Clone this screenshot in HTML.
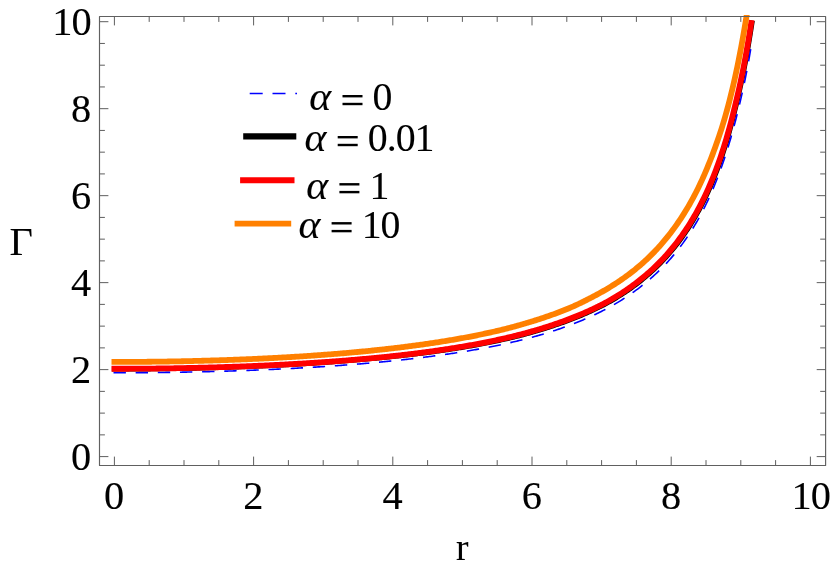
<!DOCTYPE html>
<html><head><meta charset="utf-8"><title>plot</title>
<style>
html,body{margin:0;padding:0;background:#fff;}
body{width:830px;height:569px;overflow:hidden;}
svg{display:block;will-change:transform;}
text{font-family:"Liberation Serif",serif;font-size:40.4px;fill:#000;stroke:#000;stroke-width:0.1px;}
#leg text{font-size:39.8px;}
.it{font-style:italic;}
</style></head><body>
<svg width="830" height="569" viewBox="0 0 830 569">
<defs><clipPath id="cp"><rect x="99.5" y="15" width="726.1" height="450.5"/></clipPath></defs>
<g clip-path="url(#cp)" fill="none" stroke-linecap="square" stroke-linejoin="round">
<path d="M114.40,369.06 L115.68,369.06 L116.95,369.05 L118.23,369.05 L119.51,369.05 L120.78,369.05 L122.06,369.05 L123.33,369.04 L124.61,369.04 L125.89,369.04 L127.16,369.03 L128.44,369.03 L129.72,369.02 L130.99,369.02 L132.27,369.01 L133.55,369.01 L134.82,369.00 L136.10,368.99 L137.37,368.98 L138.65,368.97 L139.93,368.97 L141.20,368.96 L142.48,368.95 L143.76,368.94 L145.03,368.93 L146.31,368.92 L147.58,368.90 L148.86,368.89 L150.14,368.88 L151.41,368.87 L152.69,368.85 L153.97,368.84 L155.24,368.83 L156.52,368.81 L157.80,368.80 L159.07,368.78 L160.35,368.76 L161.62,368.75 L162.90,368.73 L164.18,368.71 L165.45,368.70 L166.73,368.68 L168.01,368.66 L169.28,368.64 L170.56,368.62 L171.84,368.60 L173.11,368.58 L174.39,368.56 L175.66,368.54 L176.94,368.51 L178.22,368.49 L179.49,368.47 L180.77,368.44 L182.05,368.42 L183.32,368.40 L184.60,368.37 L185.88,368.35 L187.15,368.32 L188.43,368.29 L189.70,368.27 L190.98,368.24 L192.26,368.21 L193.53,368.18 L194.81,368.15 L196.09,368.13 L197.36,368.10 L198.64,368.07 L199.91,368.04 L201.19,368.00 L202.47,367.97 L203.74,367.94 L205.02,367.91 L206.30,367.87 L207.57,367.84 L208.85,367.81 L210.13,367.77 L211.40,367.74 L212.68,367.70 L213.95,367.67 L215.23,367.63 L216.51,367.59 L217.78,367.55 L219.06,367.52 L220.34,367.48 L221.61,367.44 L222.89,367.40 L224.17,367.36 L225.44,367.32 L226.72,367.28 L227.99,367.23 L229.27,367.19 L230.55,367.15 L231.82,367.11 L233.10,367.06 L234.38,367.02 L235.65,366.97 L236.93,366.93 L238.21,366.88 L239.48,366.83 L240.76,366.79 L242.03,366.74 L243.31,366.69 L244.59,366.64 L245.86,366.59 L247.14,366.54 L248.42,366.49 L249.69,366.44 L250.97,366.39 L252.25,366.34 L253.52,366.29 L254.80,366.23 L256.07,366.18 L257.35,366.12 L258.63,366.07 L259.90,366.01 L261.18,365.96 L262.46,365.90 L263.73,365.84 L265.01,365.79 L266.29,365.73 L267.56,365.67 L268.84,365.61 L270.11,365.55 L271.39,365.49 L272.67,365.43 L273.94,365.37 L275.22,365.30 L276.50,365.24 L277.77,365.18 L279.05,365.11 L280.33,365.05 L281.60,364.98 L282.88,364.91 L284.15,364.85 L285.43,364.78 L286.71,364.71 L287.98,364.64 L289.26,364.57 L290.54,364.50 L291.81,364.43 L293.09,364.36 L294.37,364.29 L295.64,364.22 L296.92,364.14 L298.19,364.07 L299.47,363.99 L300.75,363.92 L302.02,363.84 L303.30,363.77 L304.58,363.69 L305.85,363.61 L307.13,363.53 L308.41,363.45 L309.68,363.37 L310.96,363.29 L312.24,363.21 L313.51,363.13 L314.79,363.04 L316.06,362.96 L317.34,362.87 L318.62,362.79 L319.89,362.70 L321.17,362.62 L322.45,362.53 L323.72,362.44 L325.00,362.35 L326.28,362.26 L327.55,362.17 L328.83,362.08 L330.10,361.99 L331.38,361.90 L332.66,361.80 L333.93,361.71 L335.21,361.61 L336.49,361.52 L337.76,361.42 L339.04,361.32 L340.32,361.22 L341.59,361.12 L342.87,361.02 L344.15,360.92 L345.42,360.82 L346.70,360.72 L347.97,360.62 L349.25,360.51 L350.53,360.41 L351.80,360.30 L353.08,360.19 L354.36,360.09 L355.63,359.98 L356.91,359.87 L358.19,359.76 L359.46,359.65 L360.74,359.53 L362.02,359.42 L363.29,359.31 L364.57,359.19 L365.85,359.08 L367.12,358.96 L368.40,358.85 L369.68,358.73 L370.95,358.61 L372.23,358.50 L373.51,358.38 L374.78,358.26 L376.06,358.14 L377.34,358.01 L378.61,357.89 L379.89,357.77 L381.17,357.65 L382.44,357.52 L383.72,357.40 L385.00,357.27 L386.27,357.14 L387.55,357.01 L388.83,356.89 L390.11,356.76 L391.38,356.62 L392.66,356.49 L393.94,356.36 L395.21,356.23 L396.49,356.09 L397.77,355.95 L399.05,355.82 L400.32,355.68 L401.60,355.54 L402.88,355.40 L404.15,355.26 L405.43,355.12 L406.71,354.97 L407.99,354.83 L409.26,354.68 L410.54,354.53 L411.82,354.39 L413.10,354.24 L414.37,354.09 L415.65,353.93 L416.93,353.78 L418.21,353.63 L419.48,353.47 L420.76,353.31 L422.04,353.15 L423.32,352.99 L424.60,352.83 L425.87,352.67 L427.15,352.50 L428.43,352.34 L429.71,352.17 L430.98,352.00 L432.26,351.83 L433.54,351.66 L434.82,351.49 L436.09,351.31 L437.37,351.13 L438.65,350.95 L439.93,350.77 L441.21,350.59 L442.48,350.41 L443.76,350.22 L445.04,350.04 L446.32,349.85 L447.59,349.66 L448.87,349.47 L450.15,349.27 L451.43,349.08 L452.71,348.88 L453.98,348.68 L455.26,348.48 L456.54,348.28 L457.82,348.07 L459.09,347.86 L460.37,347.66 L461.65,347.45 L462.93,347.24 L464.21,347.02 L465.48,346.81 L466.76,346.59 L468.04,346.37 L469.32,346.15 L470.60,345.93 L471.87,345.70 L473.15,345.47 L474.43,345.24 L475.71,345.01 L476.99,344.78 L478.27,344.54 L479.54,344.31 L480.82,344.07 L482.10,343.83 L483.38,343.58 L484.66,343.34 L485.93,343.09 L487.21,342.84 L488.49,342.58 L489.77,342.33 L491.05,342.07 L492.33,341.81 L493.61,341.55 L494.88,341.28 L496.16,341.02 L497.44,340.75 L498.72,340.47 L500.00,340.20 L501.28,339.92 L502.55,339.64 L503.83,339.35 L505.11,339.07 L506.39,338.78 L507.67,338.48 L508.95,338.19 L510.22,337.89 L511.50,337.58 L512.78,337.28 L514.06,336.97 L515.34,336.66 L516.61,336.34 L517.89,336.02 L519.17,335.70 L520.45,335.37 L521.72,335.04 L523.00,334.71 L524.28,334.37 L525.56,334.03 L526.83,333.69 L528.11,333.34 L529.39,332.99 L530.66,332.64 L531.94,332.28 L533.22,331.92 L534.50,331.56 L535.77,331.19 L537.05,330.81 L538.33,330.44 L539.60,330.06 L540.88,329.67 L542.16,329.29 L543.43,328.89 L544.71,328.50 L545.99,328.10 L547.27,327.70 L548.54,327.29 L549.82,326.88 L551.10,326.46 L552.37,326.04 L553.65,325.61 L554.93,325.18 L556.20,324.75 L557.48,324.31 L558.76,323.87 L560.04,323.42 L561.31,322.97 L562.59,322.52 L563.87,322.06 L565.15,321.59 L566.42,321.12 L567.70,320.64 L568.98,320.16 L570.26,319.68 L571.54,319.19 L572.82,318.69 L574.10,318.19 L575.37,317.68 L576.65,317.17 L577.93,316.66 L579.21,316.13 L580.49,315.60 L581.77,315.07 L583.05,314.53 L584.33,313.98 L585.61,313.43 L586.89,312.86 L588.17,312.30 L589.45,311.72 L590.73,311.14 L592.01,310.55 L593.29,309.96 L594.57,309.35 L595.85,308.74 L597.13,308.12 L598.41,307.50 L599.69,306.86 L600.98,306.22 L602.26,305.57 L603.54,304.91 L604.82,304.24 L606.10,303.56 L607.37,302.87 L608.65,302.17 L609.93,301.46 L611.20,300.74 L612.48,300.01 L613.76,299.27 L615.03,298.51 L616.30,297.75 L617.58,296.97 L618.85,296.19 L620.12,295.39 L621.40,294.58 L622.67,293.76 L623.94,292.93 L625.21,292.09 L626.48,291.23 L627.75,290.36 L629.02,289.48 L630.29,288.59 L631.56,287.68 L632.83,286.76 L634.09,285.83 L635.36,284.88 L636.63,283.92 L637.90,282.95 L639.17,281.96 L640.44,280.96 L641.71,279.94 L642.98,278.91 L644.25,277.86 L645.52,276.80 L646.79,275.72 L648.06,274.63 L649.33,273.51 L650.61,272.39 L651.88,271.24 L653.15,270.07 L654.42,268.89 L655.70,267.68 L656.97,266.45 L658.24,265.21 L659.51,263.94 L660.78,262.65 L662.06,261.33 L663.33,260.00 L664.60,258.64 L665.87,257.25 L667.14,255.84 L668.41,254.41 L669.69,252.95 L670.96,251.46 L672.23,249.95 L673.50,248.40 L674.77,246.83 L676.05,245.22 L677.32,243.59 L678.59,241.92 L679.86,240.22 L681.14,238.49 L682.41,236.72 L683.69,234.92 L684.96,233.08 L686.24,231.20 L687.51,229.28 L688.79,227.32 L690.07,225.32 L691.34,223.27 L692.62,221.18 L693.90,219.04 L695.18,216.86 L696.46,214.63 L697.75,212.34 L699.03,210.00 L700.31,207.60 L701.59,205.15 L702.88,202.64 L704.16,200.07 L705.44,197.43 L706.73,194.72 L708.01,191.95 L709.29,189.10 L710.57,186.18 L711.86,183.18 L713.14,180.10 L714.41,176.93 L715.69,173.68 L716.97,170.33 L718.24,166.89 L719.51,163.35 L720.77,159.71 L722.04,155.95 L723.30,152.08 L724.56,148.10 L725.82,143.99 L727.08,139.75 L728.33,135.37 L729.59,130.86 L730.85,126.19 L732.11,121.37 L733.38,116.38 L734.66,111.23 L735.96,105.89 L737.27,100.37 L738.60,94.64 L739.93,88.70 L741.28,82.53 L742.63,76.12 L743.98,69.46 L745.32,62.52 L746.65,55.29 L747.98,47.75 L749.31,39.88 L750.64,31.67 L751.97,23.09" stroke="#000" stroke-width="5.0"/>
<path d="M113.50,372.74 L114.77,372.74 L116.05,372.74 L117.33,372.74 L118.61,372.74 L119.89,372.74 L121.17,372.74 L122.45,372.73 L123.73,372.73 L125.01,372.73 L126.29,372.73 L127.57,372.72 L128.85,372.72 L130.13,372.71 L131.41,372.71 L132.69,372.70 L133.97,372.70 L135.25,372.69 L136.53,372.69 L137.80,372.68 L139.08,372.67 L140.36,372.66 L141.64,372.66 L142.92,372.65 L144.20,372.64 L145.48,372.63 L146.76,372.62 L148.04,372.61 L149.32,372.60 L150.60,372.59 L151.88,372.57 L153.16,372.56 L154.44,372.55 L155.72,372.54 L157.00,372.52 L158.28,372.51 L159.56,372.50 L160.84,372.48 L162.11,372.47 L163.39,372.45 L164.67,372.43 L165.95,372.42 L167.23,372.40 L168.51,372.38 L169.79,372.36 L171.07,372.35 L172.35,372.33 L173.63,372.31 L174.91,372.29 L176.19,372.27 L177.47,372.25 L178.75,372.23 L180.03,372.21 L181.31,372.18 L182.59,372.16 L183.87,372.14 L185.15,372.12 L186.42,372.09 L187.70,372.07 L188.98,372.04 L190.26,372.02 L191.54,371.99 L192.82,371.97 L194.10,371.94 L195.38,371.91 L196.66,371.89 L197.94,371.86 L199.22,371.83 L200.50,371.80 L201.78,371.77 L203.06,371.74 L204.34,371.71 L205.62,371.68 L206.90,371.65 L208.18,371.62 L209.46,371.59 L210.73,371.56 L212.01,371.52 L213.29,371.49 L214.57,371.45 L215.85,371.42 L217.13,371.39 L218.41,371.35 L219.69,371.31 L220.97,371.28 L222.25,371.24 L223.53,371.20 L224.81,371.17 L226.09,371.13 L227.37,371.09 L228.65,371.05 L229.93,371.01 L231.21,370.97 L232.49,370.93 L233.77,370.89 L235.05,370.84 L236.32,370.80 L237.60,370.76 L238.88,370.72 L240.16,370.67 L241.44,370.63 L242.72,370.58 L244.00,370.54 L245.28,370.49 L246.56,370.44 L247.84,370.40 L249.12,370.35 L250.40,370.30 L251.68,370.25 L252.96,370.20 L254.24,370.15 L255.52,370.10 L256.80,370.05 L258.08,370.00 L259.36,369.95 L260.64,369.90 L261.91,369.84 L263.19,369.79 L264.47,369.74 L265.75,369.68 L267.03,369.63 L268.31,369.57 L269.59,369.51 L270.87,369.46 L272.15,369.40 L273.43,369.34 L274.71,369.28 L275.99,369.22 L277.27,369.16 L278.55,369.10 L279.83,369.04 L281.11,368.98 L282.39,368.92 L283.67,368.85 L284.95,368.79 L286.23,368.73 L287.51,368.66 L288.78,368.60 L290.06,368.53 L291.34,368.46 L292.62,368.40 L293.90,368.33 L295.18,368.26 L296.46,368.19 L297.74,368.12 L299.02,368.05 L300.30,367.98 L301.58,367.91 L302.86,367.84 L304.14,367.76 L305.42,367.69 L306.70,367.62 L307.98,367.54 L309.26,367.46 L310.54,367.39 L311.82,367.31 L313.10,367.23 L314.38,367.15 L315.66,367.08 L316.94,367.00 L318.21,366.92 L319.49,366.83 L320.77,366.75 L322.05,366.67 L323.33,366.59 L324.61,366.50 L325.89,366.42 L327.17,366.33 L328.45,366.25 L329.73,366.16 L331.01,366.07 L332.29,365.98 L333.57,365.89 L334.85,365.80 L336.13,365.71 L337.41,365.62 L338.69,365.53 L339.97,365.44 L341.25,365.34 L342.53,365.25 L343.81,365.15 L345.09,365.06 L346.37,364.96 L347.65,364.86 L348.93,364.76 L350.20,364.66 L351.48,364.56 L352.76,364.46 L354.04,364.36 L355.32,364.26 L356.60,364.15 L357.88,364.05 L359.16,363.94 L360.44,363.84 L361.72,363.73 L363.00,363.62 L364.28,363.51 L365.56,363.40 L366.84,363.29 L368.12,363.18 L369.40,363.07 L370.68,362.95 L371.96,362.84 L373.24,362.72 L374.52,362.61 L375.80,362.49 L377.08,362.37 L378.36,362.25 L379.64,362.13 L380.92,362.01 L382.20,361.89 L383.48,361.76 L384.76,361.64 L386.03,361.51 L387.31,361.39 L388.59,361.26 L389.87,361.13 L391.15,361.00 L392.43,360.87 L393.71,360.74 L394.99,360.61 L396.27,360.47 L397.55,360.34 L398.83,360.20 L400.11,360.07 L401.39,359.93 L402.67,359.79 L403.95,359.65 L405.23,359.51 L406.51,359.36 L407.79,359.22 L409.07,359.07 L410.35,358.93 L411.63,358.78 L412.91,358.63 L414.19,358.48 L415.47,358.33 L416.75,358.18 L418.03,358.02 L419.31,357.87 L420.59,357.71 L421.87,357.56 L423.15,357.40 L424.43,357.24 L425.71,357.08 L426.99,356.91 L428.27,356.75 L429.55,356.58 L430.83,356.42 L432.11,356.25 L433.39,356.08 L434.67,355.91 L435.95,355.74 L437.23,355.56 L438.51,355.39 L439.79,355.21 L441.07,355.03 L442.35,354.85 L443.63,354.67 L444.91,354.49 L446.19,354.30 L447.46,354.12 L448.74,353.93 L450.02,353.74 L451.30,353.55 L452.58,353.36 L453.86,353.17 L455.14,352.97 L456.42,352.77 L457.70,352.57 L458.98,352.37 L460.26,352.17 L461.54,351.97 L462.82,351.76 L464.10,351.55 L465.38,351.34 L466.66,351.13 L467.94,350.92 L469.22,350.70 L470.50,350.48 L471.78,350.26 L473.06,350.04 L474.34,349.82 L475.63,349.60 L476.91,349.37 L478.19,349.14 L479.47,348.91 L480.75,348.67 L482.03,348.44 L483.31,348.20 L484.59,347.96 L485.87,347.72 L487.15,347.48 L488.43,347.23 L489.71,346.98 L490.99,346.73 L492.27,346.48 L493.55,346.22 L494.83,345.96 L496.11,345.70 L497.39,345.44 L498.67,345.17 L499.95,344.91 L501.23,344.64 L502.51,344.36 L503.79,344.09 L505.07,343.81 L506.35,343.53 L507.63,343.25 L508.91,342.96 L510.19,342.67 L511.47,342.38 L512.75,342.09 L514.03,341.79 L515.31,341.49 L516.59,341.18 L517.87,340.88 L519.15,340.57 L520.43,340.26 L521.71,339.94 L522.99,339.62 L524.27,339.30 L525.55,338.97 L526.83,338.64 L528.11,338.31 L529.39,337.97 L530.67,337.63 L531.95,337.29 L533.22,336.94 L534.50,336.59 L535.78,336.23 L537.06,335.87 L538.34,335.51 L539.62,335.14 L540.90,334.77 L542.18,334.40 L543.45,334.02 L544.73,333.63 L546.01,333.24 L547.29,332.85 L548.57,332.46 L549.84,332.05 L551.12,331.65 L552.40,331.24 L553.68,330.83 L554.95,330.41 L556.23,329.98 L557.51,329.55 L558.79,329.12 L560.06,328.68 L561.34,328.24 L562.62,327.79 L563.89,327.34 L565.17,326.88 L566.44,326.42 L567.72,325.95 L569.00,325.48 L570.27,325.00 L571.55,324.52 L572.82,324.03 L574.10,323.53 L575.37,323.03 L576.65,322.52 L577.92,322.01 L579.20,321.49 L580.47,320.97 L581.75,320.44 L583.02,319.90 L584.30,319.36 L585.57,318.81 L586.85,318.25 L588.12,317.69 L589.39,317.12 L590.67,316.54 L591.94,315.96 L593.21,315.37 L594.49,314.77 L595.76,314.17 L597.03,313.56 L598.31,312.94 L599.58,312.31 L600.85,311.68 L602.13,311.04 L603.40,310.39 L604.67,309.73 L605.94,309.06 L607.22,308.39 L608.49,307.70 L609.76,307.01 L611.03,306.30 L612.30,305.59 L613.57,304.87 L614.84,304.13 L616.11,303.39 L617.37,302.64 L618.64,301.87 L619.91,301.10 L621.18,300.31 L622.44,299.51 L623.71,298.70 L624.98,297.88 L626.24,297.05 L627.51,296.21 L628.77,295.36 L630.04,294.49 L631.30,293.61 L632.56,292.72 L633.83,291.81 L635.09,290.90 L636.36,289.97 L637.62,289.02 L638.89,288.07 L640.15,287.10 L641.41,286.11 L642.68,285.11 L643.94,284.10 L645.21,283.07 L646.48,282.02 L647.74,280.96 L649.01,279.89 L650.28,278.79 L651.55,277.69 L652.82,276.56 L654.09,275.42 L655.36,274.25 L656.63,273.07 L657.90,271.87 L659.17,270.64 L660.44,269.40 L661.71,268.13 L662.98,266.84 L664.25,265.53 L665.52,264.19 L666.80,262.83 L668.07,261.45 L669.34,260.03 L670.61,258.60 L671.88,257.13 L673.15,255.64 L674.42,254.12 L675.69,252.57 L676.96,250.99 L678.23,249.38 L679.50,247.74 L680.78,246.07 L682.05,244.36 L683.32,242.61 L684.59,240.83 L685.87,239.02 L687.14,237.16 L688.41,235.27 L689.69,233.33 L690.96,231.35 L692.23,229.33 L693.51,227.26 L694.78,225.15 L696.06,222.99 L697.34,220.78 L698.61,218.52 L699.89,216.20 L701.17,213.83 L702.45,211.40 L703.73,208.92 L705.01,206.37 L706.29,203.76 L707.57,201.08 L708.85,198.33 L710.13,195.51 L711.41,192.62 L712.69,189.65 L713.98,186.60 L715.26,183.47 L716.55,180.25 L717.83,176.94 L719.12,173.53 L720.41,170.03 L721.70,166.43 L723.00,162.71 L724.29,158.89 L725.59,154.95 L726.90,150.89 L728.20,146.70 L729.51,142.37 L730.82,137.91 L732.13,133.30 L733.45,128.53 L734.76,123.60 L736.08,118.49 L737.41,113.21 L738.75,107.74 L740.10,102.07 L741.47,96.19 L742.84,90.09 L744.21,83.75 L745.58,77.15 L746.93,70.29 L748.27,63.14 L749.59,55.69 L750.89,47.92 L752.20,39.81" stroke="#0000ff" stroke-width="1.6" stroke-dasharray="12.4 9.75" stroke-linecap="butt"/>
<path d="M114.40,368.76 L115.68,368.76 L116.95,368.75 L118.23,368.75 L119.50,368.75 L120.78,368.75 L122.06,368.75 L123.33,368.74 L124.61,368.74 L125.89,368.74 L127.16,368.73 L128.44,368.73 L129.71,368.72 L130.99,368.72 L132.27,368.71 L133.54,368.71 L134.82,368.70 L136.10,368.69 L137.37,368.68 L138.65,368.67 L139.92,368.67 L141.20,368.66 L142.48,368.65 L143.75,368.64 L145.03,368.63 L146.31,368.62 L147.58,368.60 L148.86,368.59 L150.13,368.58 L151.41,368.57 L152.69,368.55 L153.96,368.54 L155.24,368.53 L156.52,368.51 L157.79,368.50 L159.07,368.48 L160.34,368.46 L161.62,368.45 L162.90,368.43 L164.17,368.41 L165.45,368.40 L166.73,368.38 L168.00,368.36 L169.28,368.34 L170.55,368.32 L171.83,368.30 L173.11,368.28 L174.38,368.26 L175.66,368.24 L176.94,368.21 L178.21,368.19 L179.49,368.17 L180.76,368.14 L182.04,368.12 L183.32,368.10 L184.59,368.07 L185.87,368.05 L187.15,368.02 L188.42,367.99 L189.70,367.97 L190.97,367.94 L192.25,367.91 L193.53,367.88 L194.80,367.86 L196.08,367.83 L197.36,367.80 L198.63,367.77 L199.91,367.74 L201.18,367.70 L202.46,367.67 L203.74,367.64 L205.01,367.61 L206.29,367.57 L207.56,367.54 L208.84,367.51 L210.12,367.47 L211.39,367.44 L212.67,367.40 L213.95,367.37 L215.22,367.33 L216.50,367.29 L217.77,367.25 L219.05,367.22 L220.33,367.18 L221.60,367.14 L222.88,367.10 L224.16,367.06 L225.43,367.02 L226.71,366.98 L227.98,366.93 L229.26,366.89 L230.54,366.85 L231.81,366.81 L233.09,366.76 L234.37,366.72 L235.64,366.67 L236.92,366.63 L238.19,366.58 L239.47,366.53 L240.75,366.49 L242.02,366.44 L243.30,366.39 L244.58,366.34 L245.85,366.29 L247.13,366.24 L248.40,366.19 L249.68,366.14 L250.96,366.09 L252.23,366.04 L253.51,365.99 L254.79,365.93 L256.06,365.88 L257.34,365.82 L258.61,365.77 L259.89,365.71 L261.17,365.66 L262.44,365.60 L263.72,365.54 L265.00,365.49 L266.27,365.43 L267.55,365.37 L268.82,365.31 L270.10,365.25 L271.38,365.19 L272.65,365.13 L273.93,365.07 L275.21,365.00 L276.48,364.94 L277.76,364.88 L279.03,364.81 L280.31,364.75 L281.59,364.68 L282.86,364.61 L284.14,364.55 L285.42,364.48 L286.69,364.41 L287.97,364.34 L289.24,364.27 L290.52,364.20 L291.80,364.13 L293.07,364.06 L294.35,363.99 L295.63,363.92 L296.90,363.84 L298.18,363.77 L299.45,363.69 L300.73,363.62 L302.01,363.54 L303.28,363.47 L304.56,363.39 L305.83,363.31 L307.11,363.23 L308.39,363.15 L309.66,363.07 L310.94,362.99 L312.22,362.91 L313.49,362.83 L314.77,362.74 L316.04,362.66 L317.32,362.58 L318.60,362.49 L319.87,362.40 L321.15,362.32 L322.43,362.23 L323.70,362.14 L324.98,362.05 L326.25,361.96 L327.53,361.87 L328.81,361.78 L330.08,361.69 L331.36,361.60 L332.64,361.50 L333.91,361.41 L335.19,361.31 L336.46,361.22 L337.74,361.12 L339.02,361.02 L340.29,360.92 L341.57,360.83 L342.85,360.73 L344.12,360.62 L345.40,360.52 L346.67,360.42 L347.95,360.32 L349.23,360.21 L350.50,360.11 L351.78,360.00 L353.06,359.89 L354.33,359.79 L355.61,359.68 L356.88,359.57 L358.16,359.46 L359.44,359.35 L360.71,359.23 L361.99,359.12 L363.27,359.01 L364.54,358.89 L365.82,358.78 L367.09,358.66 L368.37,358.54 L369.65,358.42 L370.92,358.30 L372.20,358.18 L373.48,358.06 L374.75,357.94 L376.03,357.81 L377.30,357.69 L378.58,357.56 L379.86,357.44 L381.13,357.31 L382.41,357.18 L383.69,357.05 L384.96,356.92 L386.24,356.79 L387.51,356.66 L388.79,356.52 L390.07,356.39 L391.34,356.25 L392.62,356.11 L393.89,355.97 L395.17,355.84 L396.45,355.69 L397.72,355.55 L399.00,355.41 L400.28,355.27 L401.55,355.12 L402.83,354.97 L404.10,354.83 L405.38,354.68 L406.66,354.53 L407.93,354.38 L409.21,354.22 L410.49,354.07 L411.76,353.92 L413.04,353.76 L414.31,353.60 L415.59,353.44 L416.87,353.28 L418.14,353.12 L419.42,352.96 L420.70,352.79 L421.97,352.63 L423.25,352.46 L424.52,352.29 L425.80,352.12 L427.08,351.95 L428.35,351.78 L429.63,351.61 L430.91,351.43 L432.18,351.26 L433.46,351.08 L434.73,350.90 L436.01,350.72 L437.29,350.54 L438.56,350.35 L439.84,350.17 L441.12,349.98 L442.39,349.79 L443.67,349.60 L444.94,349.41 L446.22,349.21 L447.50,349.02 L448.77,348.82 L450.05,348.62 L451.33,348.42 L452.60,348.22 L453.88,348.02 L455.15,347.81 L456.43,347.61 L457.71,347.40 L458.98,347.19 L460.26,346.98 L461.54,346.76 L462.81,346.55 L464.09,346.33 L465.36,346.11 L466.64,345.89 L467.92,345.67 L469.19,345.44 L470.47,345.21 L471.75,344.98 L473.02,344.75 L474.30,344.52 L475.57,344.28 L476.85,344.05 L478.13,343.81 L479.40,343.57 L480.68,343.32 L481.95,343.08 L483.23,342.83 L484.51,342.58 L485.78,342.33 L487.06,342.07 L488.34,341.82 L489.61,341.56 L490.89,341.29 L492.16,341.03 L493.44,340.76 L494.72,340.50 L495.99,340.23 L497.27,339.95 L498.55,339.68 L499.82,339.40 L501.10,339.12 L502.37,338.83 L503.65,338.54 L504.93,338.25 L506.20,337.96 L507.48,337.66 L508.75,337.36 L510.03,337.06 L511.30,336.76 L512.58,336.45 L513.86,336.13 L515.13,335.82 L516.41,335.50 L517.68,335.18 L518.96,334.85 L520.23,334.52 L521.51,334.19 L522.78,333.86 L524.05,333.52 L525.33,333.18 L526.60,332.83 L527.88,332.48 L529.15,332.13 L530.43,331.77 L531.70,331.41 L532.97,331.05 L534.25,330.68 L535.52,330.31 L536.80,329.94 L538.07,329.56 L539.34,329.18 L540.62,328.79 L541.89,328.41 L543.17,328.01 L544.44,327.61 L545.71,327.21 L546.99,326.81 L548.26,326.40 L549.53,325.98 L550.81,325.57 L552.08,325.15 L553.35,324.72 L554.63,324.29 L555.90,323.85 L557.17,323.41 L558.45,322.97 L559.72,322.52 L561.00,322.07 L562.27,321.61 L563.54,321.15 L564.82,320.68 L566.09,320.21 L567.36,319.73 L568.64,319.25 L569.91,318.77 L571.19,318.27 L572.46,317.78 L573.73,317.28 L575.01,316.77 L576.28,316.26 L577.56,315.74 L578.83,315.22 L580.11,314.69 L581.38,314.15 L582.66,313.61 L583.93,313.06 L585.21,312.51 L586.48,311.94 L587.76,311.38 L589.03,310.80 L590.31,310.22 L591.58,309.63 L592.86,309.03 L594.13,308.43 L595.41,307.82 L596.68,307.20 L597.96,306.57 L599.23,305.94 L600.51,305.30 L601.78,304.65 L603.06,303.99 L604.33,303.32 L605.61,302.64 L606.88,301.95 L608.15,301.25 L609.42,300.54 L610.69,299.82 L611.96,299.09 L613.23,298.35 L614.50,297.60 L615.77,296.84 L617.03,296.07 L618.30,295.28 L619.57,294.49 L620.83,293.68 L622.10,292.86 L623.36,292.03 L624.62,291.19 L625.89,290.34 L627.15,289.47 L628.41,288.59 L629.67,287.70 L630.94,286.80 L632.20,285.88 L633.46,284.95 L634.72,284.01 L635.98,283.05 L637.24,282.08 L638.51,281.10 L639.77,280.10 L641.03,279.09 L642.29,278.06 L643.56,277.02 L644.82,275.96 L646.08,274.88 L647.35,273.79 L648.61,272.69 L649.88,271.57 L651.15,270.42 L652.41,269.26 L653.68,268.08 L654.94,266.88 L656.21,265.66 L657.47,264.42 L658.74,263.16 L660.00,261.87 L661.27,260.57 L662.53,259.24 L663.80,257.89 L665.06,256.51 L666.33,255.11 L667.59,253.68 L668.86,252.23 L670.12,250.75 L671.39,249.24 L672.65,247.70 L673.92,246.14 L675.18,244.54 L676.45,242.92 L677.72,241.26 L678.98,239.57 L680.25,237.84 L681.52,236.08 L682.79,234.29 L684.05,232.45 L685.32,230.58 L686.59,228.67 L687.86,226.72 L689.14,224.73 L690.41,222.69 L691.68,220.61 L692.96,218.48 L694.23,216.31 L695.51,214.08 L696.78,211.81 L698.06,209.48 L699.34,207.09 L700.62,204.65 L701.89,202.15 L703.17,199.58 L704.45,196.95 L705.73,194.26 L707.01,191.49 L708.29,188.66 L709.56,185.74 L710.84,182.75 L712.12,179.68 L713.39,176.53 L714.67,173.28 L715.94,169.95 L717.21,166.52 L718.49,162.99 L719.76,159.36 L721.03,155.61 L722.31,151.76 L723.58,147.79 L724.85,143.69 L726.13,139.47 L727.40,135.11 L728.68,130.60 L729.95,125.95 L731.23,121.14 L732.50,116.16 L733.79,111.01 L735.09,105.69 L736.41,100.17 L737.75,94.45 L739.09,88.52 L740.44,82.36 L741.80,75.96 L743.15,69.30 L744.51,62.37 L745.85,55.15 L747.18,47.62 L748.51,39.76 L749.85,31.55 L751.18,22.97" stroke="#ff0000" stroke-width="5.8"/>
<path d="M114.40,361.93 L115.67,361.93 L116.94,361.93 L118.22,361.93 L119.49,361.93 L120.76,361.93 L122.03,361.92 L123.30,361.92 L124.58,361.92 L125.85,361.91 L127.12,361.91 L128.39,361.90 L129.66,361.90 L130.94,361.89 L132.21,361.89 L133.48,361.88 L134.75,361.87 L136.02,361.86 L137.30,361.86 L138.57,361.85 L139.84,361.84 L141.11,361.83 L142.39,361.82 L143.66,361.81 L144.93,361.79 L146.20,361.78 L147.47,361.77 L148.75,361.76 L150.02,361.74 L151.29,361.73 L152.56,361.72 L153.83,361.70 L155.11,361.69 L156.38,361.67 L157.65,361.65 L158.92,361.64 L160.19,361.62 L161.47,361.60 L162.74,361.59 L164.01,361.57 L165.28,361.55 L166.55,361.53 L167.83,361.51 L169.10,361.49 L170.37,361.47 L171.64,361.44 L172.91,361.42 L174.19,361.40 L175.46,361.38 L176.73,361.35 L178.00,361.33 L179.27,361.30 L180.55,361.28 L181.82,361.25 L183.09,361.23 L184.36,361.20 L185.63,361.17 L186.91,361.15 L188.18,361.12 L189.45,361.09 L190.72,361.06 L191.99,361.03 L193.27,361.00 L194.54,360.97 L195.81,360.94 L197.08,360.91 L198.36,360.87 L199.63,360.84 L200.90,360.81 L202.17,360.77 L203.44,360.74 L204.72,360.70 L205.99,360.67 L207.26,360.63 L208.53,360.60 L209.80,360.56 L211.08,360.52 L212.35,360.48 L213.62,360.45 L214.89,360.41 L216.16,360.37 L217.44,360.33 L218.71,360.29 L219.98,360.24 L221.25,360.20 L222.52,360.16 L223.80,360.12 L225.07,360.07 L226.34,360.03 L227.61,359.98 L228.88,359.94 L230.16,359.89 L231.43,359.85 L232.70,359.80 L233.97,359.75 L235.24,359.70 L236.52,359.66 L237.79,359.61 L239.06,359.56 L240.33,359.51 L241.60,359.46 L242.88,359.40 L244.15,359.35 L245.42,359.30 L246.69,359.25 L247.97,359.19 L249.24,359.14 L250.51,359.08 L251.78,359.03 L253.05,358.97 L254.33,358.91 L255.60,358.86 L256.87,358.80 L258.14,358.74 L259.41,358.68 L260.69,358.62 L261.96,358.56 L263.23,358.50 L264.50,358.44 L265.77,358.37 L267.05,358.31 L268.32,358.25 L269.59,358.18 L270.86,358.12 L272.13,358.05 L273.41,357.99 L274.68,357.92 L275.95,357.85 L277.22,357.78 L278.49,357.71 L279.77,357.64 L281.04,357.57 L282.31,357.50 L283.58,357.43 L284.85,357.36 L286.13,357.29 L287.40,357.21 L288.67,357.14 L289.94,357.06 L291.21,356.99 L292.49,356.91 L293.76,356.83 L295.03,356.76 L296.30,356.68 L297.57,356.60 L298.85,356.52 L300.12,356.44 L301.39,356.36 L302.66,356.28 L303.94,356.19 L305.21,356.11 L306.48,356.02 L307.75,355.94 L309.02,355.85 L310.30,355.77 L311.57,355.68 L312.84,355.59 L314.11,355.50 L315.38,355.41 L316.66,355.32 L317.93,355.23 L319.20,355.14 L320.47,355.05 L321.74,354.95 L323.02,354.86 L324.29,354.76 L325.56,354.67 L326.83,354.57 L328.10,354.47 L329.38,354.38 L330.65,354.28 L331.92,354.18 L333.19,354.08 L334.46,353.97 L335.74,353.87 L337.01,353.77 L338.28,353.66 L339.55,353.56 L340.82,353.45 L342.10,353.35 L343.37,353.24 L344.64,353.13 L345.91,353.02 L347.18,352.91 L348.46,352.80 L349.73,352.68 L351.00,352.57 L352.27,352.46 L353.55,352.34 L354.82,352.23 L356.09,352.11 L357.36,351.99 L358.63,351.87 L359.91,351.75 L361.18,351.63 L362.45,351.51 L363.72,351.39 L364.99,351.26 L366.27,351.14 L367.54,351.01 L368.81,350.89 L370.08,350.76 L371.35,350.63 L372.63,350.50 L373.90,350.37 L375.17,350.24 L376.44,350.10 L377.71,349.97 L378.99,349.83 L380.26,349.70 L381.53,349.56 L382.80,349.42 L384.07,349.28 L385.35,349.14 L386.62,349.00 L387.89,348.85 L389.16,348.71 L390.43,348.56 L391.71,348.42 L392.98,348.27 L394.25,348.12 L395.52,347.97 L396.79,347.82 L398.07,347.67 L399.34,347.51 L400.61,347.36 L401.88,347.20 L403.15,347.04 L404.43,346.89 L405.70,346.72 L406.97,346.56 L408.24,346.40 L409.52,346.24 L410.79,346.07 L412.06,345.90 L413.33,345.74 L414.60,345.57 L415.88,345.40 L417.15,345.22 L418.42,345.05 L419.69,344.87 L420.96,344.70 L422.24,344.52 L423.51,344.34 L424.78,344.16 L426.05,343.98 L427.32,343.79 L428.60,343.61 L429.87,343.42 L431.14,343.23 L432.41,343.04 L433.68,342.85 L434.96,342.66 L436.23,342.46 L437.50,342.27 L438.77,342.07 L440.04,341.87 L441.32,341.67 L442.59,341.47 L443.86,341.26 L445.13,341.05 L446.40,340.85 L447.68,340.64 L448.95,340.43 L450.22,340.21 L451.49,340.00 L452.76,339.78 L454.04,339.56 L455.31,339.34 L456.58,339.12 L457.85,338.89 L459.13,338.67 L460.40,338.44 L461.67,338.21 L462.94,337.98 L464.21,337.74 L465.49,337.51 L466.76,337.27 L468.03,337.03 L469.30,336.79 L470.57,336.54 L471.85,336.30 L473.12,336.05 L474.39,335.80 L475.66,335.54 L476.93,335.29 L478.21,335.03 L479.48,334.77 L480.75,334.51 L482.02,334.25 L483.29,333.98 L484.57,333.71 L485.84,333.44 L487.11,333.16 L488.38,332.89 L489.65,332.61 L490.93,332.33 L492.20,332.04 L493.47,331.76 L494.74,331.47 L496.01,331.17 L497.28,330.88 L498.56,330.58 L499.83,330.27 L501.10,329.96 L502.37,329.65 L503.64,329.34 L504.91,329.02 L506.18,328.70 L507.45,328.37 L508.72,328.04 L509.99,327.71 L511.26,327.38 L512.53,327.04 L513.79,326.69 L515.06,326.35 L516.33,326.00 L517.60,325.65 L518.87,325.29 L520.14,324.93 L521.41,324.57 L522.67,324.20 L523.94,323.83 L525.21,323.46 L526.48,323.09 L527.75,322.71 L529.02,322.33 L530.28,321.94 L531.55,321.55 L532.82,321.16 L534.09,320.76 L535.36,320.36 L536.63,319.96 L537.90,319.56 L539.17,319.15 L540.44,318.73 L541.70,318.32 L542.97,317.90 L544.24,317.47 L545.51,317.04 L546.78,316.61 L548.05,316.17 L549.32,315.73 L550.59,315.28 L551.86,314.83 L553.13,314.37 L554.40,313.91 L555.66,313.44 L556.93,312.97 L558.20,312.50 L559.47,312.01 L560.74,311.53 L562.01,311.03 L563.27,310.54 L564.54,310.03 L565.81,309.52 L567.07,309.00 L568.34,308.48 L569.61,307.95 L570.87,307.42 L572.14,306.87 L573.40,306.32 L574.66,305.75 L575.92,305.18 L577.18,304.60 L578.43,304.00 L579.69,303.41 L580.94,302.80 L582.20,302.19 L583.45,301.56 L584.71,300.94 L585.96,300.31 L587.22,299.67 L588.47,299.02 L589.73,298.38 L590.98,297.72 L592.24,297.07 L593.51,296.41 L594.77,295.75 L596.03,295.08 L597.30,294.40 L598.56,293.71 L599.82,293.02 L601.09,292.31 L602.35,291.60 L603.61,290.88 L604.88,290.15 L606.14,289.41 L607.41,288.67 L608.67,287.91 L609.93,287.14 L611.20,286.36 L612.46,285.58 L613.73,284.78 L614.99,283.97 L616.25,283.15 L617.52,282.32 L618.78,281.48 L620.05,280.63 L621.31,279.77 L622.57,278.89 L623.84,278.00 L625.10,277.10 L626.36,276.18 L627.63,275.26 L628.89,274.31 L630.15,273.36 L631.42,272.39 L632.68,271.41 L633.94,270.41 L635.20,269.40 L636.47,268.37 L637.73,267.32 L638.99,266.26 L640.25,265.18 L641.51,264.09 L642.77,262.97 L644.03,261.84 L645.29,260.70 L646.54,259.53 L647.80,258.34 L649.06,257.13 L650.32,255.91 L651.57,254.66 L652.83,253.39 L654.09,252.11 L655.34,250.80 L656.60,249.46 L657.85,248.11 L659.11,246.73 L660.36,245.32 L661.62,243.90 L662.87,242.44 L664.13,240.96 L665.38,239.46 L666.64,237.93 L667.89,236.37 L669.15,234.78 L670.40,233.16 L671.66,231.51 L672.92,229.83 L674.18,228.12 L675.43,226.37 L676.70,224.59 L677.96,222.78 L679.22,220.93 L680.48,219.04 L681.75,217.12 L683.01,215.15 L684.28,213.15 L685.54,211.10 L686.81,209.00 L688.08,206.86 L689.35,204.68 L690.61,202.44 L691.88,200.16 L693.15,197.82 L694.42,195.43 L695.69,192.98 L696.96,190.48 L698.23,187.92 L699.51,185.29 L700.78,182.60 L702.05,179.84 L703.32,177.02 L704.60,174.12 L705.87,171.14 L707.15,168.09 L708.43,164.96 L709.72,161.75 L711.01,158.46 L712.32,155.08 L713.63,151.60 L714.94,148.02 L716.26,144.35 L717.59,140.56 L718.92,136.67 L720.24,132.66 L721.58,128.52 L722.90,124.25 L724.23,119.85 L725.55,115.31 L726.86,110.61 L728.17,105.76 L729.48,100.74 L730.78,95.56 L732.09,90.19 L733.39,84.64 L734.70,78.88 L736.00,72.91 L737.31,66.73 L738.62,60.30 L739.93,53.64 L741.25,46.70 L742.57,39.49 L743.89,31.99 L745.22,24.17 L746.55,16.01 L747.88,7.50 L749.15,-1.40" stroke="#ff8000" stroke-width="5.8"/>
</g>
<rect x="99.5" y="16.5" width="726.1" height="449.0" fill="none" stroke="#606060" stroke-width="1.15" stroke-linejoin="round"/>
<path d="M114.40,465.5 v-8.9 M114.40,16.5 v8.9 M99.5,456.60 h8.9 M825.6,456.60 h-8.9 M149.20,465.5 v-5.4 M149.20,16.5 v5.4 M99.5,434.86 h5.4 M825.6,434.86 h-5.4 M184.00,465.5 v-5.4 M184.00,16.5 v5.4 M99.5,413.11 h5.4 M825.6,413.11 h-5.4 M218.80,465.5 v-5.4 M218.80,16.5 v5.4 M99.5,391.37 h5.4 M825.6,391.37 h-5.4 M253.60,465.5 v-8.9 M253.60,16.5 v8.9 M99.5,369.62 h8.9 M825.6,369.62 h-8.9 M288.40,465.5 v-5.4 M288.40,16.5 v5.4 M99.5,347.88 h5.4 M825.6,347.88 h-5.4 M323.20,465.5 v-5.4 M323.20,16.5 v5.4 M99.5,326.13 h5.4 M825.6,326.13 h-5.4 M358.00,465.5 v-5.4 M358.00,16.5 v5.4 M99.5,304.38 h5.4 M825.6,304.38 h-5.4 M392.80,465.5 v-8.9 M392.80,16.5 v8.9 M99.5,282.64 h8.9 M825.6,282.64 h-8.9 M427.60,465.5 v-5.4 M427.60,16.5 v5.4 M99.5,260.89 h5.4 M825.6,260.89 h-5.4 M462.40,465.5 v-5.4 M462.40,16.5 v5.4 M99.5,239.15 h5.4 M825.6,239.15 h-5.4 M497.20,465.5 v-5.4 M497.20,16.5 v5.4 M99.5,217.41 h5.4 M825.6,217.41 h-5.4 M532.00,465.5 v-8.9 M532.00,16.5 v8.9 M99.5,195.66 h8.9 M825.6,195.66 h-8.9 M566.80,465.5 v-5.4 M566.80,16.5 v5.4 M99.5,173.92 h5.4 M825.6,173.92 h-5.4 M601.60,465.5 v-5.4 M601.60,16.5 v5.4 M99.5,152.17 h5.4 M825.6,152.17 h-5.4 M636.40,465.5 v-5.4 M636.40,16.5 v5.4 M99.5,130.43 h5.4 M825.6,130.43 h-5.4 M671.20,465.5 v-8.9 M671.20,16.5 v8.9 M99.5,108.68 h8.9 M825.6,108.68 h-8.9 M706.00,465.5 v-5.4 M706.00,16.5 v5.4 M99.5,86.94 h5.4 M825.6,86.94 h-5.4 M740.80,465.5 v-5.4 M740.80,16.5 v5.4 M99.5,65.19 h5.4 M825.6,65.19 h-5.4 M775.60,465.5 v-5.4 M775.60,16.5 v5.4 M99.5,43.44 h5.4 M825.6,43.44 h-5.4 M810.40,465.5 v-8.9 M810.40,16.5 v8.9 M99.5,21.70 h8.9 M825.6,21.70 h-8.9" fill="none" stroke="#5e5e5e" stroke-width="1.0"/>
<text x="114.2" y="508.9" text-anchor="middle">0</text>
<text x="91.3" y="469.6" text-anchor="end">0</text>
<text x="253.4" y="508.9" text-anchor="middle">2</text>
<text x="91.3" y="382.6" text-anchor="end">2</text>
<text x="392.6" y="508.9" text-anchor="middle">4</text>
<text x="91.3" y="295.6" text-anchor="end">4</text>
<text x="531.8" y="508.9" text-anchor="middle">6</text>
<text x="91.3" y="208.7" text-anchor="end">6</text>
<text x="671.0" y="508.9" text-anchor="middle">8</text>
<text x="91.3" y="121.7" text-anchor="end">8</text>
<text x="810.7" y="508.9" text-anchor="middle" letter-spacing="-0.9">10</text>
<text x="90.8" y="34.7" text-anchor="end" letter-spacing="-0.9">10</text>
<text x="9.5" y="255.3">&#915;</text>
<text x="456" y="559.7" style="font-size:37.5px">r</text>
<g fill="none">
<path d="M249.7,93.5 H297" stroke="#0000ff" stroke-width="1.5" stroke-dasharray="13 9.8"/>
<path d="M243.2,136.4 H296.3" stroke="#000" stroke-width="6.3"/>
<path d="M240.1,180.2 H294.5" stroke="#ff0000" stroke-width="6.1"/>
<path d="M234.6,223.6 H291.2" stroke="#ff8000" stroke-width="5.8"/>
</g>
<g id="leg">
<text class="it" transform="translate(309.30,110.4) scale(1.05,0.98)" x="0" y="0">&#945;</text>
<rect x="342.50" y="95.00" width="20" height="2.4" fill="#000"/>
<rect x="342.50" y="102.80" width="20" height="2.4" fill="#000"/>
<text x="372.60" y="110.4" letter-spacing="-1">0</text>
<text class="it" transform="translate(304.50,151.4) scale(1.05,0.98)" x="0" y="0">&#945;</text>
<rect x="337.70" y="136.00" width="20" height="2.4" fill="#000"/>
<rect x="337.70" y="143.80" width="20" height="2.4" fill="#000"/>
<text x="367.80" y="151.4" letter-spacing="-1">0.01</text>
<text class="it" transform="translate(306.20,198.5) scale(1.05,0.98)" x="0" y="0">&#945;</text>
<rect x="339.40" y="183.10" width="20" height="2.4" fill="#000"/>
<rect x="339.40" y="190.90" width="20" height="2.4" fill="#000"/>
<text x="369.50" y="198.5" letter-spacing="-1">1</text>
<text class="it" transform="translate(298.40,237.5) scale(1.05,0.98)" x="0" y="0">&#945;</text>
<rect x="331.60" y="222.10" width="20" height="2.4" fill="#000"/>
<rect x="331.60" y="229.90" width="20" height="2.4" fill="#000"/>
<text x="361.70" y="237.5" letter-spacing="-1">10</text>
</g>
</svg>
</body></html>
